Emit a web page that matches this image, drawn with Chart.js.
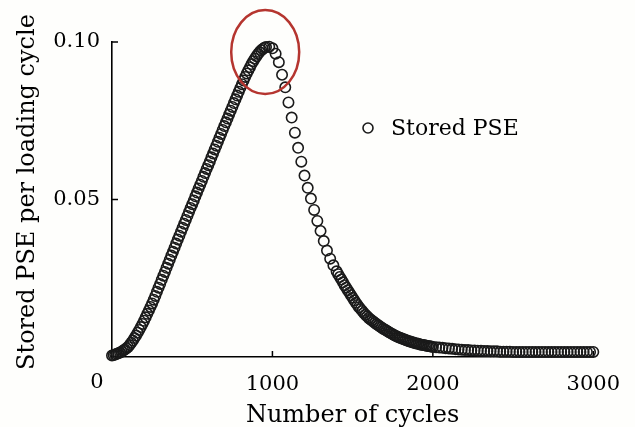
<!DOCTYPE html>
<html>
<head>
<meta charset="utf-8">
<title>Stored PSE per loading cycle</title>
<script src="https://cdn.jsdelivr.net/npm/chart.js@4/dist/chart.umd.min.js"></script>
<style>
  html, body { margin: 0; padding: 0; background: #fefefc; }
  canvas { display: block; }
</style>
</head>
<body>
<canvas id="pseChart" width="635" height="427"></canvas>
<script>
"use strict";

// Number of cycles (x) for each stored point
const cycles = [
    0, 10, 20, 30, 40, 50, 60, 70, 80, 90,
    100, 110, 120, 130, 140, 150, 160, 170, 180, 190,
    200, 210, 220, 230, 240, 250, 260, 270, 280, 290,
    300, 310, 320, 330, 340, 350, 360, 370, 380, 390,
    400, 410, 420, 430, 440, 450, 460, 470, 480, 490,
    500, 510, 520, 530, 540, 550, 560, 570, 580, 590,
    600, 610, 620, 630, 640, 650, 660, 670, 680, 690,
    700, 710, 720, 730, 740, 750, 760, 770, 780, 790,
    800, 810, 820, 830, 840, 850, 860, 870, 880, 890,
    900, 910, 920, 930, 940, 950, 960,
    980, 1000, 1020, 1040, 1060, 1080, 1100, 1120, 1140, 1160,
    1180, 1200, 1220, 1240, 1260, 1280, 1300, 1320, 1340, 1360,
    1380, 1400,
    1410, 1420, 1430, 1440, 1450, 1460, 1470, 1480, 1490, 1500,
    1510, 1520, 1530, 1540, 1550, 1560, 1570, 1580, 1590, 1600,
    1610, 1620, 1630, 1640, 1650, 1660, 1670, 1680, 1690, 1700,
    1710, 1720, 1730, 1740, 1750, 1760, 1770, 1780, 1790, 1800,
    1810, 1820, 1830, 1840, 1850, 1860, 1870, 1880, 1890, 1900,
    1910, 1920, 1930, 1940, 1950, 1960, 1970, 1980, 1990, 2000,
    2020, 2040, 2060, 2080, 2100, 2120, 2140, 2160, 2180, 2200,
    2220, 2240, 2260, 2280, 2300, 2320, 2340, 2360, 2380, 2400,
    2420, 2440, 2460, 2480, 2500, 2520, 2540, 2560, 2580, 2600,
    2620, 2640, 2660, 2680, 2700, 2720, 2740, 2760, 2780, 2800,
    2820, 2840, 2860, 2880, 2900, 2920, 2940, 2960, 2980, 3000
];

// Stored PSE per loading cycle
const storedPse = [
    0.0005, 0.0006, 0.0008, 0.0010, 0.0012, 0.0014, 0.0017, 0.0021, 0.0024, 0.0028,
    0.0032, 0.0038, 0.0045, 0.0052, 0.0060, 0.0068, 0.0077, 0.0086, 0.0095, 0.0105,
    0.0115, 0.0126, 0.0137, 0.0148, 0.0159, 0.0170, 0.0182, 0.0194, 0.0207, 0.0220,
    0.0232, 0.0245, 0.0258, 0.0270, 0.0283, 0.0296, 0.0309, 0.0322, 0.0334, 0.0347,
    0.0360, 0.0373, 0.0385, 0.0398, 0.0410, 0.0423, 0.0435, 0.0448, 0.0460, 0.0473,
    0.0485, 0.0497, 0.0510, 0.0522, 0.0535, 0.0547, 0.0559, 0.0572, 0.0584, 0.0597,
    0.0609, 0.0621, 0.0634, 0.0646, 0.0659, 0.0671, 0.0683, 0.0696, 0.0708, 0.0721,
    0.0733, 0.0745, 0.0757, 0.0770, 0.0782, 0.0794, 0.0806, 0.0818, 0.0830, 0.0842,
    0.0854, 0.0866, 0.0878, 0.0889, 0.0900, 0.0910, 0.0920, 0.0930, 0.0939, 0.0947,
    0.0955, 0.0962, 0.0968, 0.0974, 0.0978, 0.0982, 0.0984,
    0.0985, 0.0980, 0.0963, 0.0936, 0.0896, 0.0856, 0.0808, 0.0760, 0.0712, 0.0664,
    0.0620, 0.0576, 0.0537, 0.0503, 0.0467, 0.0432, 0.0400, 0.0368, 0.0338, 0.0312,
    0.0291, 0.0272,
    0.0263, 0.0254, 0.0246, 0.0237, 0.0228, 0.0220, 0.0212, 0.0204, 0.0196, 0.0188,
    0.0180, 0.0172, 0.0165, 0.0158, 0.0152, 0.0146, 0.0140, 0.0134, 0.0129, 0.0124,
    0.0120, 0.0116, 0.0112, 0.0108, 0.0104, 0.0101, 0.0097, 0.0094, 0.0090, 0.0087,
    0.0084, 0.0081, 0.0078, 0.0075, 0.0072, 0.0069, 0.0067, 0.0064, 0.0062, 0.0060,
    0.0058, 0.0056, 0.0054, 0.0052, 0.0050, 0.0049, 0.0047, 0.0046, 0.0044, 0.0043,
    0.0042, 0.0040, 0.0039, 0.0038, 0.0037, 0.0036, 0.0035, 0.0034, 0.0033, 0.0032,
    0.0031, 0.0030, 0.0029, 0.0028, 0.0027, 0.0026, 0.0025, 0.0024, 0.0023, 0.0022,
    0.0022, 0.0021, 0.0021, 0.0020, 0.0020, 0.0019, 0.0019, 0.0018, 0.0018, 0.0018,
    0.0017, 0.0017, 0.0017, 0.0017, 0.0016, 0.0016, 0.0016, 0.0016, 0.0016, 0.0016,
    0.0016, 0.0016, 0.0016, 0.0016, 0.0016, 0.0016, 0.0016, 0.0016, 0.0016, 0.0016,
    0.0016, 0.0016, 0.0016, 0.0016, 0.0016, 0.0016, 0.0016, 0.0016, 0.0016, 0.0016
];

// Tick values shown on the axes
const xTicks = [0, 1000, 2000, 3000];
const yTicks = [0.05, 0.10];

// Where the peak is marked (cycles, value)
const peakMark = [955, 0.0968];

const FONT = "'DejaVu Serif', serif";
const INK = '#000';

// Small tick marks drawn inside the axes
const insideTicks = {
    id: 'insideTicks',
    beforeDatasetsDraw(chart) {
        const { ctx, chartArea, scales } = chart;
        ctx.save();
        ctx.strokeStyle = INK;
        ctx.lineWidth = 1.5;
        ctx.beginPath();
        yTicks.forEach(v => {
            const y = scales.y.getPixelForValue(v);
            ctx.moveTo(chartArea.left, y);
            ctx.lineTo(chartArea.left + 6, y);
        });
        xTicks.slice(1).forEach(v => {
            const x = scales.x.getPixelForValue(v);
            ctx.moveTo(x, chartArea.bottom);
            ctx.lineTo(x, chartArea.bottom - 6);
        });
        ctx.stroke();
        ctx.restore();
    }
};

// Red ring round the peak, the legend entry, the y title and the origin label
const annotations = {
    id: 'annotations',
    afterDraw(chart) {
        const { ctx, chartArea, scales } = chart;
        ctx.save();

        // ring round the peak
        ctx.strokeStyle = '#b5352f';
        ctx.lineWidth = 2.5;
        ctx.beginPath();
        ctx.ellipse(scales.x.getPixelForValue(peakMark[0]), scales.y.getPixelForValue(peakMark[1]),
            34, 42, 0, 0, Math.PI * 2);
        ctx.stroke();

        // legend entry
        ctx.strokeStyle = '#1a1a1a';
        ctx.lineWidth = 1.6;
        ctx.beginPath();
        ctx.arc(368, 128, 5, 0, Math.PI * 2);
        ctx.stroke();
        ctx.fillStyle = INK;
        ctx.font = '22px ' + FONT;
        ctx.textBaseline = 'middle';
        ctx.textAlign = 'left';
        ctx.fillText(chart.data.datasets[0].label, 391, 129);

        // y axis title, a little above the middle of the axis
        ctx.save();
        ctx.translate(28, 192);
        ctx.rotate(-Math.PI / 2);
        ctx.font = '24px ' + FONT;
        ctx.textAlign = 'center';
        ctx.fillText('Stored PSE per loading cycle', 0, 0);
        ctx.restore();

        // "0" sits left of the origin
        ctx.font = '21px ' + FONT;
        ctx.textAlign = 'center';
        ctx.textBaseline = 'top';
        ctx.fillText('0', scales.x.getPixelForValue(0) - 15, chartArea.bottom + 15);
        ctx.restore();
    }
};

const points = cycles.map((c, i) => ({ x: c, y: storedPse[i] }));

const config = {
    type: 'scatter',
    data: {
        datasets: [{
            label: 'Stored PSE',
            data: points,
            pointStyle: 'circle',
            pointRadius: 5.2,
            pointBorderWidth: 1.6,
            pointBorderColor: '#1a1a1a',
            pointBackgroundColor: 'rgba(0,0,0,0)',
            clip: false
        }]
    },
    options: {
        responsive: false,
        animation: false,
        layout: { padding: { top: 42, right: 41, bottom: 0, left: 0 } },
        plugins: {
            legend: { display: false },
            tooltip: { enabled: false }
        },
        scales: {
            x: {
                type: 'linear',
                min: 0,
                max: 3000,
                afterFit: scale => { scale.height = 70; },
                afterBuildTicks: scale => { scale.ticks = xTicks.map(v => ({ value: v })); },
                grid: { display: false, drawTicks: false },
                border: { display: true, color: INK, width: 1.6 },
                ticks: {
                    padding: 15,
                    color: INK,
                    font: { family: FONT, size: 21 },
                    maxRotation: 0,
                    callback: v => (v === 0 ? '' : String(v))
                },
                title: {
                    display: true,
                    text: 'Number of cycles',
                    color: INK,
                    font: { family: FONT, size: 24 },
                    padding: { top: 0, bottom: -3 }
                }
            },
            y: {
                type: 'linear',
                min: 0,
                max: 0.1,
                afterFit: scale => { scale.width = 112; },
                afterBuildTicks: scale => { scale.ticks = [0].concat(yTicks).map(v => ({ value: v })); },
                grid: { display: false, drawTicks: false },
                border: { display: true, color: INK, width: 1.6 },
                ticks: {
                    padding: 12,
                    color: INK,
                    font: { family: FONT, size: 21 },
                    callback: v => (v === 0 ? '' : v.toFixed(2))
                },
                title: { display: false }
            }
        }
    },
    plugins: [insideTicks, annotations]
};

const ctx = document.getElementById('pseChart').getContext('2d');
new Chart(ctx, config);
</script>
</body>
</html>
